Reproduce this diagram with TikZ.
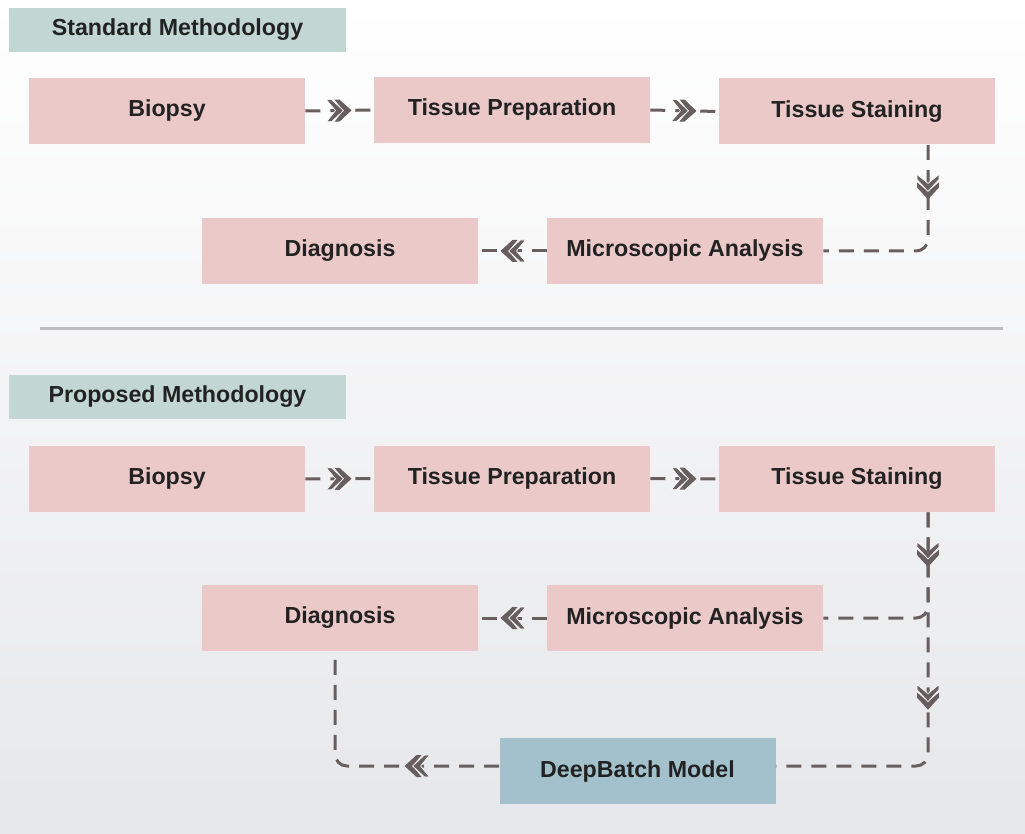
\documentclass[tikz,border=0pt]{standalone}
\usepackage{fontspec}
\setmainfont{Liberation Sans}
\usetikzlibrary{decorations.markings}
\definecolor{boxpink}{RGB}{234,201,200}
\definecolor{hdr}{RGB}{194,214,211}
\definecolor{dbblue}{RGB}{163,193,204}
\definecolor{conncol}{RGB}{104,94,94}
\definecolor{txt}{RGB}{34,34,34}
\definecolor{sepc}{RGB}{189,189,191}
\definecolor{bgbot}{RGB}{230,231,234}
\tikzset{
  chev/.pic={
    \fill[conncol, solid, sharp corners] (12,0) -- (0,11) -- (-5,11) -- (4,0) -- (-5,-11) -- (0,-11) -- cycle;
    \filldraw[conncol, fill=conncol, draw=white, solid, sharp corners, line width=0.5pt] (4,0) -- (-8,11) -- (-13,11) -- (-4,0) -- (-13,-11) -- (-8,-11) -- cycle;
  },
  stepbox/.style={fill=boxpink, minimum width=207pt, minimum height=49.5pt, inner sep=0pt,
    text=txt, font=\fontsize{17.4}{20}\selectfont\bfseries},
  modelbox/.style={stepbox, fill=dbblue},
  hdrbox/.style={fill=hdr, minimum width=252.75pt, minimum height=33pt, inner sep=0pt,
    text=txt, font=\fontsize{17.4}{20}\selectfont\bfseries},
  conn/.style={draw=conncol, line width=2.25pt, dash pattern=on 11.25pt off 7.5pt, rounded corners=9pt},
  midchev/.style={postaction={decorate}, decoration={markings, mark=at position #1 with {\pic[transform shape]{chev};}}},
  sepline/.style={draw=sepc, line width=2.25pt}
}
\begin{document}
\begin{tikzpicture}[x=0.75pt,y=-0.75pt]
\useasboundingbox (0,0) rectangle (1025,834);
\shade[top color=white, bottom color=bgbot] (0,0) rectangle (1025,834);

% Standard methodology
\node[hdrbox] (h1) at (177.5,30) {Standard Methodology};
\node[stepbox] (b1) at (167,111) {Biopsy};
\node[stepbox] (tp1) at (512,110) {Tissue Preparation};
\node[stepbox] (ts1) at (857,111.5) {Tissue Staining};
\node[stepbox] (ma1) at (685,251) {Microscopic Analysis};
\node[stepbox] (dg1) at (340,251) {Diagnosis};

\draw[conn, midchev=0.5] (b1.east) -- (tp1.west);
\draw[conn, midchev=0.5] (tp1.east) -- (ts1.west);
\draw[conn, midchev=32pt] ([xshift=53.25pt]ts1.south) |- (ma1.east);
\draw[conn, midchev=0.5] (ma1.west) -- (dg1.east);

% separator
\coordinate (sl) at (40,329);
\coordinate (sr) at (1003,329);
\draw[sepline] (sl) -- (sr);

% Proposed methodology
\node[hdrbox] (h2) at (177.5,397) {Proposed Methodology};
\node[stepbox] (b2) at (167,479) {Biopsy};
\node[stepbox] (tp2) at (512,478.5) {Tissue Preparation};
\node[stepbox] (ts2) at (857,479) {Tissue Staining};
\node[stepbox] (ma2) at (685,618) {Microscopic Analysis};
\node[stepbox] (dg2) at (340,618) {Diagnosis};
\node[modelbox] (db) at (637.5,771) {DeepBatch Model};

\draw[conn, midchev=0.5] (b2.east) -- (tp2.west);
\draw[conn, midchev=0.5] (tp2.east) -- (ts2.west);
\draw[conn, midchev=32pt] ([xshift=53.25pt]ts2.south) |- (ma2.east);
\draw[conn, midchev=0.5] (ma2.west) -- (dg2.east);
\draw[conn, midchev=139pt] ([xshift=53.25pt]ts2.south) |- ([yshift=3.75pt]db.east);
\draw[conn, midchev=62pt] ([yshift=3.75pt]db.west) -| ([xshift=-3.75pt]dg2.south);
\end{tikzpicture}
\end{document}
